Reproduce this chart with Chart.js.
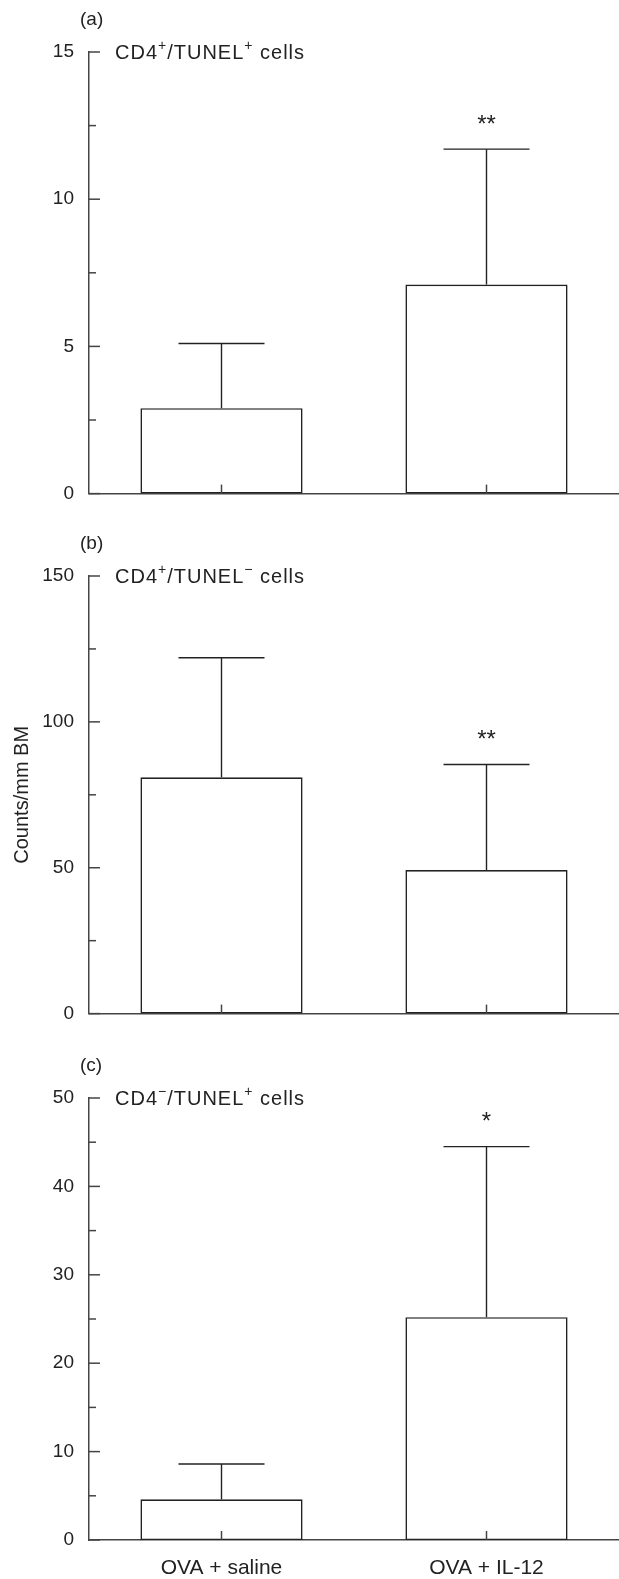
<!DOCTYPE html>
<html>
<head>
<meta charset="utf-8">
<script src="https://cdn.jsdelivr.net/npm/chart.js@4.4.1/dist/chart.umd.min.js"></script>
<style>
  body { margin: 0; background: #fff; width: 619px; height: 1579px; position: relative; overflow: hidden; }
  .panel { position: absolute; left: 0; }
</style>
</head>
<body>
<div class="panel" style="top:0"><canvas id="chartA" width="619" height="520"></canvas></div>
<div class="panel" style="top:520px"><canvas id="chartB" width="619" height="520"></canvas></div>
<div class="panel" style="top:1040px"><canvas id="chartC" width="619" height="560"></canvas></div>
<script>
const groups = ["OVA + saline", "OVA + IL-12"];

// (a) CD4+/TUNEL+ cells
const meansA = [2.9, 7.1];
const errorsA = [2.2, 4.6];
const marksA = ["", "**"];
const majorTicksA = [0, 5, 10, 15];

// (b) CD4+/TUNEL- cells
const meansB = [81, 49.2];
const errorsB = [41, 36.2];
const marksB = ["", "**"];
const majorTicksB = [0, 50, 100, 150];

// (c) CD4-/TUNEL+ cells
const meansC = [4.6, 25.2];
const errorsC = [4, 19.3];
const marksC = ["", "*"];
const majorTicksC = [0, 10, 20, 30, 40, 50];

const titleA = [["CD4", false], ["+", true], ["/TUNEL", false], ["+", true], [" cells", false]];
const titleB = [["CD4", false], ["+", true], ["/TUNEL", false], ["\u2212", true], [" cells", false]];
const titleC = [["CD4", false], ["\u2212", true], ["/TUNEL", false], ["+", true], [" cells", false]];

const FONT = "'Liberation Sans', Arial, Helvetica, sans-serif";
const TEXT = "#222";
const AXIS = "#444";

Chart.defaults.font.family = FONT;
Chart.defaults.font.size = 19;
Chart.defaults.color = TEXT;

const decorations = {
  id: "decorations",
  afterDraw(chart, args, opts) {
    const { ctx, chartArea } = chart;
    const { x, y } = chart.scales;
    const line = (x1, y1, x2, y2) => {
      ctx.beginPath();
      ctx.moveTo(x1, y1);
      ctx.lineTo(x2, y2);
      ctx.stroke();
    };

    ctx.save();
    ctx.strokeStyle = AXIS;
    ctx.lineWidth = 1.5;

    // y ticks point into the plot
    y.ticks.forEach((t) => {
      const py = y.getPixelForValue(t.value);
      const len = opts.majors.includes(t.value) ? 11 : 7;
      line(chartArea.left, py, chartArea.left + len, py);
    });

    // small x ticks at the group centres
    groups.forEach((g, i) => {
      const px = x.getPixelForValue(i);
      line(px, chartArea.bottom, px, chartArea.bottom - 9);
    });

    // error bars and significance marks
    ctx.strokeStyle = TEXT;
    ctx.lineWidth = 1.4;
    chart.getDatasetMeta(0).data.forEach((bar, i) => {
      const top = y.getPixelForValue(opts.means[i] + opts.errors[i]);
      line(bar.x, bar.y, bar.x, top);
      line(bar.x - 43, top, bar.x + 43, top);
      if (opts.marks[i]) {
        ctx.fillStyle = TEXT;
        ctx.font = "24px " + FONT;
        ctx.textAlign = "center";
        ctx.textBaseline = "middle";
        ctx.fillText(opts.marks[i], bar.x, top - 24);
      }
    });

    // panel letter
    ctx.fillStyle = TEXT;
    ctx.textAlign = "left";
    ctx.textBaseline = "middle";
    ctx.font = "19px " + FONT;
    ctx.fillText(opts.panel, 80, chartArea.top - 32);

    // title with superscripts
    let tx = 115;
    const ty = chartArea.top + 1;
    ctx.letterSpacing = "1px";
    opts.title.forEach(([text, sup]) => {
      ctx.font = (sup ? "14px " : "20px ") + FONT;
      ctx.fillText(text, tx, sup ? ty - 7 : ty);
      tx += ctx.measureText(text).width;
    });
    ctx.restore();
  },
};

function renderPanel(id, cfg) {
  new Chart(document.getElementById(id), {
    type: "bar",
    data: {
      labels: groups,
      datasets: [
        {
          data: cfg.means,
          backgroundColor: "#fff",
          borderColor: TEXT,
          borderWidth: 1.6,
          borderSkipped: false,
          categoryPercentage: 1,
          barPercentage: 0.612,
        },
      ],
    },
    options: {
      responsive: false,
      animation: false,
      layout: { padding: { top: cfg.top, right: 0, bottom: 0, left: 0 } },
      plugins: {
        legend: { display: false },
        tooltip: { enabled: false },
        decorations: {
          means: cfg.means,
          errors: cfg.errors,
          marks: cfg.marks,
          majors: cfg.majors,
          panel: cfg.panel,
          title: cfg.title,
        },
      },
      scales: {
        x: {
          grid: { display: false, drawTicks: false },
          border: { display: true, color: AXIS, width: 1.5 },
          ticks: { display: cfg.showLabels, padding: 16, color: TEXT, font: { size: 21 } },
          afterFit: (scale) => {
            scale.height = cfg.xHeight;
          },
        },
        y: {
          min: 0,
          max: cfg.majors[cfg.majors.length - 1],
          grid: { display: false, drawTicks: false },
          border: { display: true, color: AXIS, width: 1.5 },
          ticks: {
            stepSize: (cfg.majors[1] - cfg.majors[0]) / 2,
            padding: 15,
            autoSkip: false,
            color: TEXT,
            callback: (v) => (cfg.majors.includes(v) ? String(v) : ""),
          },
          title: {
            display: !!cfg.yTitle,
            text: cfg.yTitle || "",
            font: { size: 20 },
            padding: { top: 10, bottom: 0 },
            color: TEXT,
          },
          afterFit: (scale) => {
            scale.width = 89;
          },
        },
      },
    },
    plugins: [decorations],
  });
}

renderPanel("chartA", {
  means: meansA, errors: errorsA, marks: marksA, majors: majorTicksA,
  panel: "(a)", title: titleA, top: 52, xHeight: 24, showLabels: false,
});
renderPanel("chartB", {
  means: meansB, errors: errorsB, marks: marksB, majors: majorTicksB,
  panel: "(b)", title: titleB, top: 56, xHeight: 22, showLabels: false,
  yTitle: "Counts/mm BM",
});
renderPanel("chartC", {
  means: meansC, errors: errorsC, marks: marksC, majors: majorTicksC,
  panel: "(c)", title: titleC, top: 58, xHeight: 60, showLabels: true,
});
</script>
</body>
</html>
